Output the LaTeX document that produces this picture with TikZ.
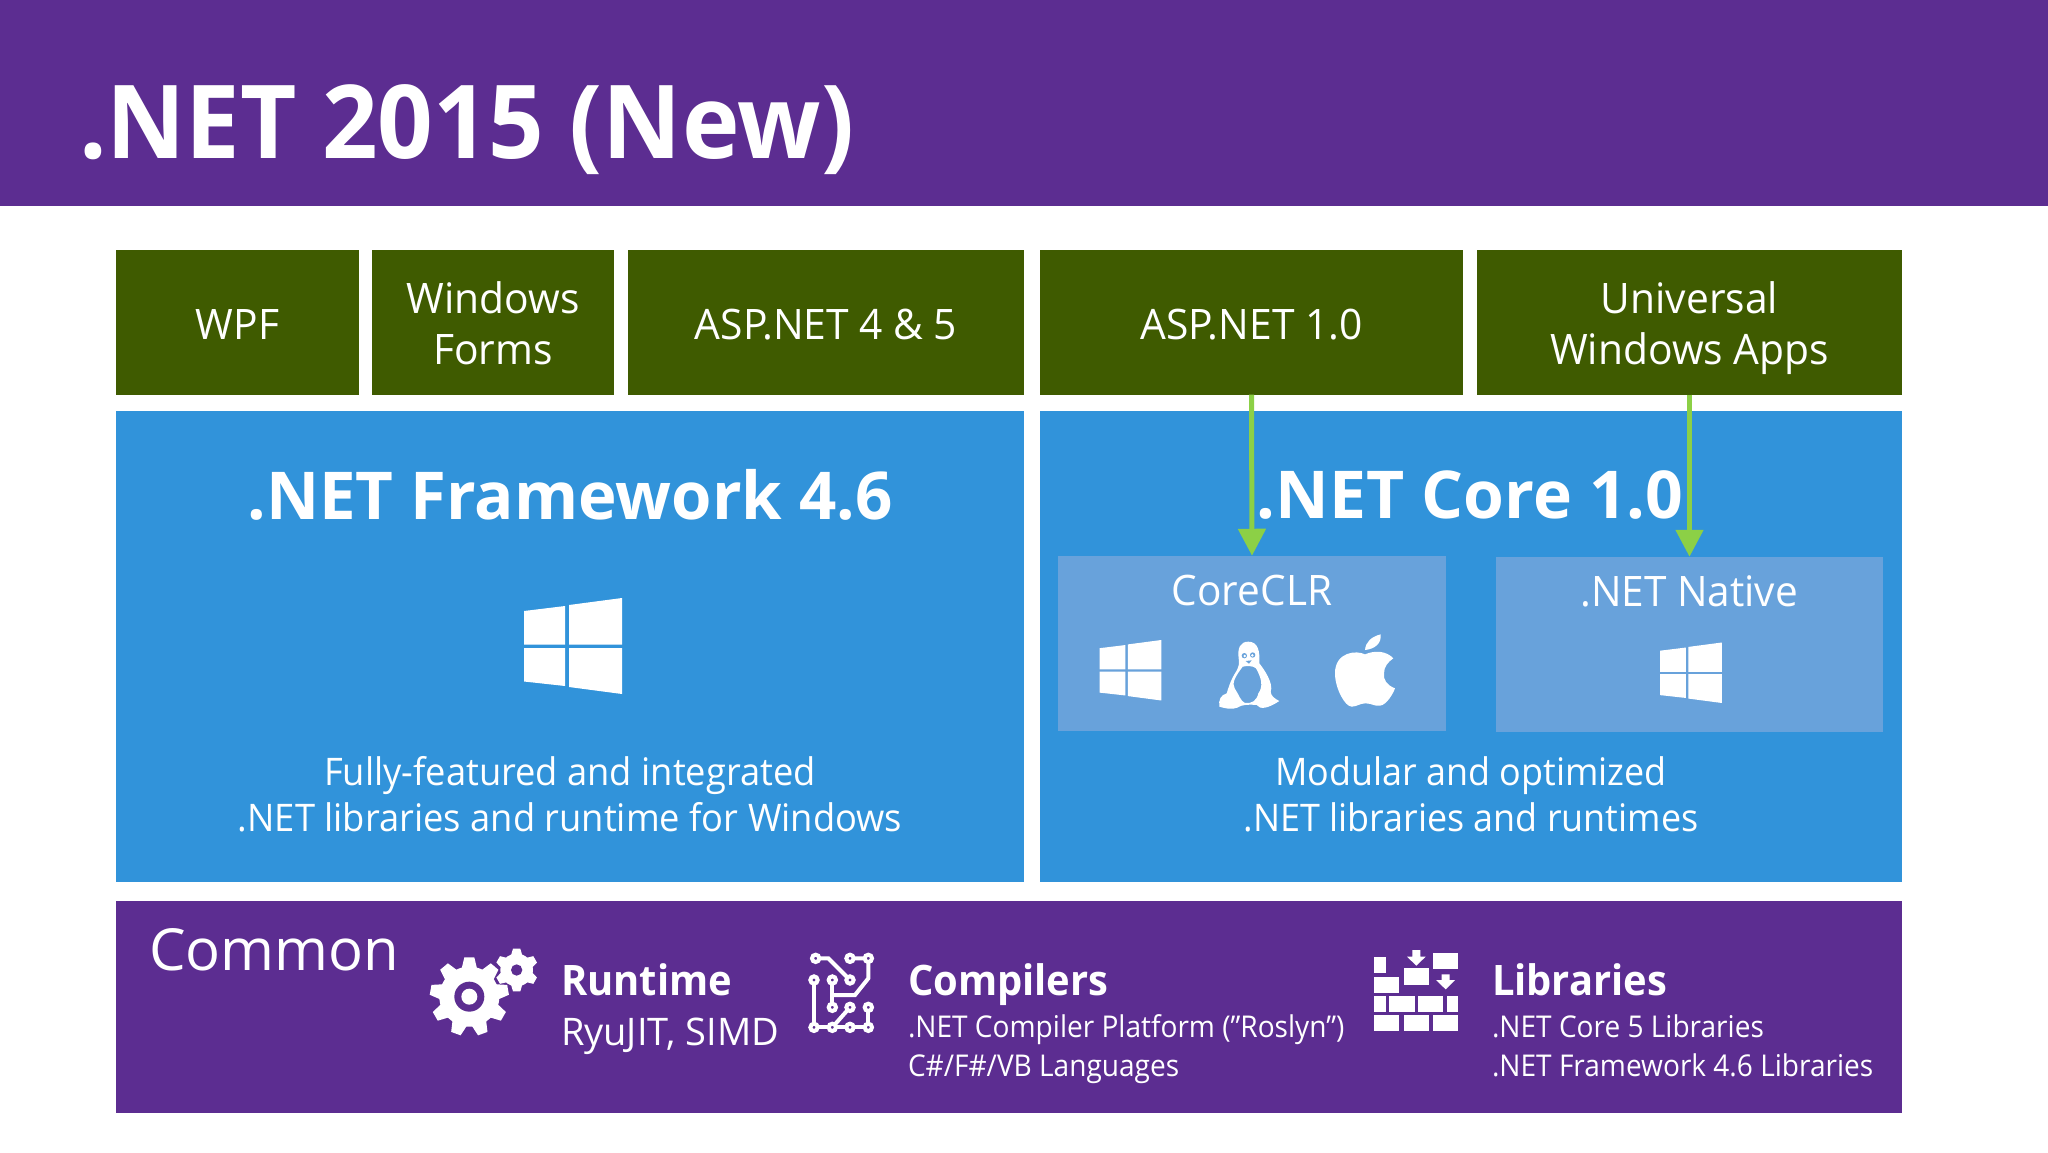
\documentclass[tikz,border=0pt]{standalone}
\usepackage{fontspec}
\setmainfont{Open Sans}
\usetikzlibrary{arrows.meta}
\definecolor{netpurple}{HTML}{5C2D91}
\definecolor{netgreen}{HTML}{3F5B00}
\definecolor{netblue}{HTML}{3193DA}
\definecolor{netpale}{HTML}{68A2DB}
\definecolor{netarrow}{HTML}{8CD046}
\newcommand{\narrowed}[1]{\addfontfeature{FakeStretch=#1}}
\tikzset{
  tilebox/.style={fill=netgreen, text=white, inner sep=0pt, outer sep=0pt, align=center, text height=34pt, text depth=0pt, minimum height=145pt, font=\fontsize{42}{51}\selectfont\narrowed{.97}},
  tiletwo/.style={tilebox, text height=84pt, text depth=0pt},
  bluebox/.style={fill=netblue, inner sep=0pt, outer sep=0pt},
  palebox/.style={fill=netpale, inner sep=0pt, outer sep=0pt},
  bandbox/.style={fill=netpurple, inner sep=0pt, outer sep=0pt},
  whitetext/.style={text=white, inner sep=0pt, outer sep=0pt, align=center},
  headtext/.style={whitetext, anchor=base west, font=\fontsize{42}{50}\selectfont\bfseries\narrowed{.95}},
  smalltext/.style={whitetext, anchor=base west, align=left, font=\fontsize{30}{38.5}\selectfont\narrowed{.935}},
  feedarrow/.style={draw=netarrow, line width=5pt, -{Triangle[length=27pt,width=27pt]}},
  iconpart/.style={scale=.3333},
  pics/winlogo/.style={code={
    \fill[white] (0,13) -- (41,8) -- (41,46.5) -- (0,46.5) -- cycle;
    \fill[white] (45,7) -- (98,0) -- (98,46.5) -- (45,46.5) -- cycle;
    \fill[white] (0,50) -- (41,50) -- (41,88) -- (0,83.5) -- cycle;
    \fill[white] (45,50) -- (98,50) -- (98,96) -- (45,89) -- cycle;
  }},
  pics/penguin/.style={code={
    \fill[white, even odd rule] (145,50) .. controls (120,50) and (112,70) .. (116,100)
      .. controls (118,115) and (118,125) .. (105,145) .. controls (90,170) and (85,190) .. (80,205)
      .. controls (62,210) and (55,225) .. (58,245) .. controls (75,250) and (95,255) .. (112,248)
      .. controls (125,238) and (150,238) .. (170,240) .. controls (180,255) and (205,250) .. (238,228)
      .. controls (225,222) and (212,212) .. (212,200) .. controls (222,175) and (190,130) .. (178,115)
      .. controls (180,80) and (175,50) .. (145,50) -- cycle
      (128,125) .. controls (105,155) and (95,175) .. (104,190) .. controls (115,205) and (122,230) .. (135,234)
      .. controls (155,236) and (170,228) .. (175,205) .. controls (190,185) and (185,160) .. (168,130)
      .. controls (160,122) and (140,122) .. (128,125) -- cycle;
    \fill[netpale] (133,92) circle (8) (158,90) circle (8);
    \fill[white] (134,93) circle (4) (157,91) circle (4);
    \fill[netpale] (137,108) -- (155,106) -- (147,116) -- cycle;
  }},
  pics/apple/.style={code={
    \fill[white] (495,75) .. controls (497,50) and (515,35) .. (542,28) .. controls (545,55) and (525,72) .. (495,75) -- cycle;
    \fill[white] (495,88) .. controls (470,75) and (405,80) .. (405,145) .. controls (405,190) and (435,245) .. (455,245)
      .. controls (470,245) and (480,235) .. (497,235) .. controls (515,235) and (525,245) .. (540,242)
      .. controls (560,240) and (580,205) .. (585,190) .. controls (560,180) and (550,165) .. (552,145)
      .. controls (552,125) and (565,110) .. (580,100) .. controls (560,78) and (525,75) .. (495,88) -- cycle;
  }},
  pics/gearbig/.style={code={
    \fill[white] (148,170) circle (90);
    \foreach \a in {0,40,...,320}
      \fill[white, shift={(148,170)}, rotate=\a] (-24,-80) -- (-15,-118) -- (15,-118) -- (24,-80) -- cycle;
    \fill[netpurple] (148,170) circle (45);
    \fill[white] (148,170) circle (24);
  }},
  pics/gearsmall/.style={code={
    \fill[white] (290,90) circle (49);
    \foreach \a in {0,60,...,300}
      \fill[white, shift={(290,90)}, rotate=\a] (-18,-40) -- (-11,-64) -- (11,-64) -- (18,-40) -- cycle;
    \fill[netpurple] (290,90) circle (17);
  }},
  pics/circuit/.style={code={
    \draw[white, line width=4pt] (47,40) -- (85,40) -- (150,105);
    \draw[white, line width=4pt] (150,40) -- (205,40) -- (205,100) -- (165,150) -- (97,150);
    \draw[white, line width=4pt] (97,105) -- (97,187);
    \draw[white, line width=4pt] (42,105) -- (42,247) -- (205,247) -- (205,187);
    \draw[white, line width=4pt] (97,247) -- (150,187);
    \foreach \p in {(47,40),(150,40),(205,40),(42,105),(97,105),(150,105),(97,187),(150,187),(205,187),(42,247),(97,247),(150,247),(205,247)}
      \draw[white, fill=netpurple, line width=4pt] \p circle (11);
  }},
  pics/bricks/.style={code={
    \foreach \l/\t/\r/\b in {28/37/64/85,28/95/103/143,116/70/191/119,204/23/279/71,28/152/64/200,73/152/149/200,160/152/235/200,245/152/279/200,28/210/103/259,116/210/191/259,204/210/279/259}
      \fill[white] (\l,\t) rectangle (\r,\b);
    \fill[white] (142,15) -- (166,15) -- (166,35) -- (182,35) -- (154,62) -- (126,35) -- (142,35) -- cycle;
    \fill[white] (230,88) -- (254,88) -- (254,105) -- (270,105) -- (242,133) -- (213,105) -- (230,105) -- cycle;
  }}
}
\begin{document}
\begin{tikzpicture}[x=1pt,y=-1pt]
  \useasboundingbox (0,0) rectangle (2048,1152);
  \fill[white] (0,0) rectangle (2048,1152);
  % title band
  \fill[netpurple] (0,0) rectangle (2048,206);
  \node[whitetext, anchor=west, font=\fontsize{102}{120}\selectfont\bfseries\narrowed{.955}] (title) at (79,130) {.NET 2015 (New)};
  % top row
  \node[tilebox, minimum width=243pt] (wpf) at (237.5,322) {WPF};
  \node[tiletwo, minimum width=242pt] (forms) at (493,322) {Windows\\Forms};
  \node[tilebox, minimum width=396pt] (asp) at (826,322) {ASP.NET 4 \& 5};
  \node[tilebox, minimum width=423pt] (aspcore) at (1251.5,322) {ASP.NET 1.0};
  \node[tiletwo, minimum width=425pt] (uwa) at (1689.5,322) {Universal\\Windows Apps};
  % framework
  \node[bluebox, minimum width=908pt, minimum height=470.5pt] (framework) at (570,646.25) {};
  \node[whitetext, font=\fontsize{66}{80}\selectfont\bfseries\narrowed{.99}] (frameworktitle) at (570,495) {.NET Framework 4.6};
  \pic at (524,598) {winlogo};
  \node[whitetext, font=\fontsize{38}{46}\selectfont\narrowed{.955}] (frameworktext) at (570,794) {Fully-featured and integrated\\.NET libraries and runtime for Windows};
  % core
  \node[bluebox, minimum width=862pt, minimum height=470.5pt] (core) at (1471,646.25) {};
  \node[whitetext, font=\fontsize{66}{80}\selectfont\bfseries] (coretitle) at (1470,495) {.NET Core 1.0};
  \node[palebox, minimum width=388pt, minimum height=175.5pt] (coreclr) at (1252,643.5) {};
  \node[palebox, minimum width=387pt, minimum height=175.5pt] (native) at (1689.5,644.5) {};
  \node[whitetext, font=\fontsize{42}{50}\selectfont\narrowed{.965}] (coreclrtext) at (1252,590) {CoreCLR};
  \node[whitetext, font=\fontsize{42}{50}\selectfont\narrowed{.965}] (nativetext) at (1689,591) {.NET Native};
  \pic[scale=.63] at (1099.5,640) {winlogo};
  \pic[iconpart] at (1200,625) {penguin};
  \pic[iconpart] at (1200,625) {apple};
  \pic[scale=.63] at (1660,642.5) {winlogo};
  \node[whitetext, font=\fontsize{38}{46}\selectfont\narrowed{.945}] (coretext) at (1471,794) {Modular and optimized\\.NET libraries and runtimes};
  \draw[feedarrow] (aspcore.south) -- (coreclr.north);
  \draw[feedarrow] (uwa.south) -- (native.north);
  % common
  \node[bandbox, minimum width=1786pt, minimum height=212pt] (common) at (1009,1007) {};
  \node[whitetext, anchor=west, font=\fontsize{58}{70}\selectfont] (commontitle) at (149,950) {Common};
  \pic[iconpart] at (420,940) {gearbig};
  \pic[iconpart] at (420,940) {gearsmall};
  \node[headtext] (runtime) at (561,995) {Runtime};
  \node[whitetext, anchor=base west, font=\fontsize{38}{46}\selectfont] (runtimetext) at (561,1045) {RyuJIT, SIMD};
  \pic[iconpart] at (800,945) {circuit};
  \node[headtext] (compilers) at (908,995) {Compilers};
  \node[smalltext] (compilerstext) at (908,1076) {.NET Compiler Platform (”Roslyn”)\\C\#/F\#/VB Languages};
  \pic[iconpart] at (1365,945) {bricks};
  \node[headtext] (libraries) at (1492,995) {Libraries};
  \node[smalltext] (librariestext) at (1492,1076) {.NET Core 5 Libraries\\.NET Framework 4.6 Libraries};
\end{tikzpicture}
\end{document}
